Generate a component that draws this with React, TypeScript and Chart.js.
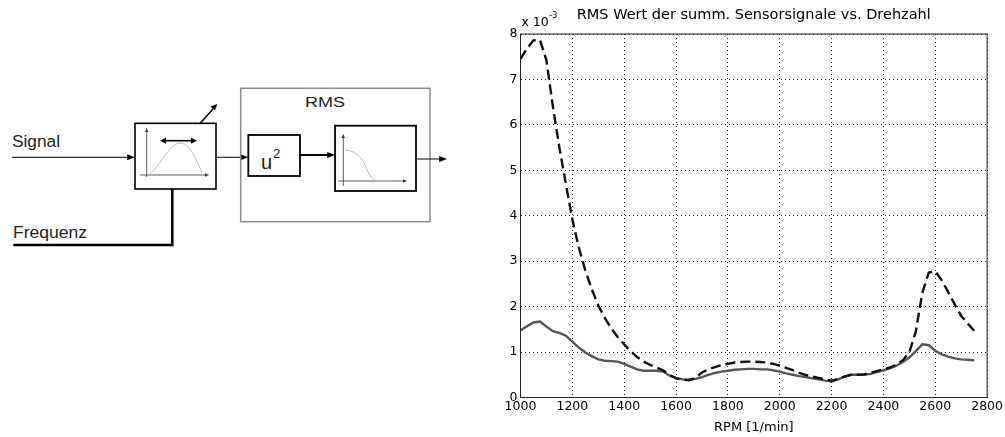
import React, { useEffect, useRef } from 'react';
import { Chart, registerables } from 'chart.js';

Chart.register(...registerables);

// ---------- data (values in units of 10^-3) ----------
const rpm = [
  1000, 1025, 1050, 1075, 1100, 1125, 1150, 1175, 1200, 1225,
  1250, 1275, 1300, 1325, 1350, 1375, 1400, 1425, 1450, 1475,
  1500, 1525, 1550, 1575, 1600, 1625, 1650, 1675, 1700, 1725,
  1750, 1775, 1800, 1825, 1850, 1875, 1900, 1925, 1950, 1975,
  2000, 2025, 2050, 2075, 2100, 2125, 2150, 2175, 2200, 2225,
  2250, 2275, 2300, 2325, 2350, 2375, 2400, 2425, 2450, 2475,
  2500, 2525, 2550, 2575, 2600, 2625, 2650, 2675, 2700, 2725,
  2750,
];

const rmsDashed = [
  7.45, 7.68, 7.86, 7.87, 7.42, 6.4, 5.5, 4.7, 3.92, 3.3,
  2.8, 2.38, 2.03, 1.75, 1.52, 1.33, 1.17, 1.02, 0.89, 0.79,
  0.72, 0.66, 0.6, 0.5, 0.42, 0.39, 0.38, 0.43, 0.55, 0.62,
  0.67, 0.71, 0.74, 0.77, 0.78, 0.79, 0.79, 0.78, 0.77, 0.74,
  0.7, 0.65, 0.6, 0.54, 0.5, 0.46, 0.43, 0.4, 0.37, 0.41,
  0.46, 0.5, 0.5, 0.51, 0.54, 0.58, 0.62, 0.66, 0.72, 0.82,
  1.0, 1.45, 2.3, 2.75, 2.78, 2.58, 2.32, 2.05, 1.8, 1.63,
  1.47,
];

const rmsSolid = [
  1.48, 1.57, 1.65, 1.67, 1.56, 1.46, 1.42, 1.36, 1.23, 1.1,
  0.99, 0.91, 0.84, 0.81, 0.8, 0.79, 0.74, 0.68, 0.62, 0.59,
  0.59, 0.59, 0.57, 0.48, 0.43, 0.4, 0.39, 0.41, 0.45, 0.5,
  0.54, 0.57, 0.59, 0.61, 0.62, 0.63, 0.63, 0.62, 0.62, 0.6,
  0.57, 0.53, 0.5, 0.47, 0.45, 0.42, 0.4, 0.37, 0.35, 0.4,
  0.46, 0.5, 0.5, 0.5, 0.52, 0.56, 0.6, 0.64, 0.7, 0.78,
  0.88, 1.02, 1.17, 1.15, 1.03, 0.95, 0.9, 0.86, 0.84, 0.83,
  0.82,
];

const xMin = 1000;
const xMax = 2800;
const xStep = 200;
const yMin = 0;
const yMax = 8;
const yStep = 1;

const chartTitle = 'RMS Wert der summ. Sensorsignale vs. Drehzahl';
const xAxisTitle = 'RPM [1/min]';
const yExponentBase = 'x 10';
const yExponent = '-3';

const FONT = '"Liberation Sans", Arial, Helvetica, sans-serif';
const CFONT = '"DejaVu Sans", "Liberation Sans", Arial, sans-serif';

// ---------- block diagram ----------
function ArrowR({ x, y, s = 6 }: { x: number; y: number; s?: number }) {
  return <polygon points={`${x},${y} ${x - s * 1.3},${y - s / 2} ${x - s * 1.3},${y + s / 2}`} fill="#000" />;
}

function Diagram() {
  return (
    <svg width={460} height={437} style={{ position: 'absolute', left: 0, top: 0 }}>
      {/* Signal input */}
      <text x={12} y={147} fontFamily={FONT} fontSize={16} fill="#222" textLength={48} lengthAdjust="spacingAndGlyphs">Signal</text>
      <line x1={12} y1={157.3} x2={130} y2={157.3} stroke="#000" strokeWidth={1} />
      <ArrowR x={135} y={157.3} />

      {/* band-pass filter box */}
      <rect x={135} y={123.3} width={81} height={65.7} fill="#fff" stroke="#000" strokeWidth={1.6} />
      <line x1={146.7} y1={177} x2={146.7} y2={131} stroke="#333" strokeWidth={0.8} />
      <polygon points="146.7,128 145,132 148.4,132" fill="#333" />
      <line x1={140} y1={175} x2={206} y2={175} stroke="#333" strokeWidth={0.8} />
      <polygon points="209,175 205,173.3 205,176.7" fill="#333" />
      <path d="M149,175 C160,166 170,143 180,143 C190,143 196,160 202,172" fill="none" stroke="#bbb" strokeWidth={1} />
      <line x1={164} y1={140.7} x2={193} y2={140.7} stroke="#000" strokeWidth={1.6} />
      <polygon points="160,140.7 166,137.7 166,143.7" fill="#000" />
      <polygon points="197,140.7 191,137.7 191,143.7" fill="#000" />
      <line x1={199.3} y1={124.3} x2={214.5} y2={107.2} stroke="#000" strokeWidth={1.5} />
      <polygon points="217.3,104 210.5,106.5 215,110.5" fill="#000" />

      {/* Frequenz input */}
      <text x={13} y={238} fontFamily={FONT} fontSize={16} fill="#222" textLength={74} lengthAdjust="spacingAndGlyphs">Frequenz</text>
      <polyline points="13.3,245 172.3,245 172.3,189" fill="none" stroke="#000" strokeWidth={2.5} />

      {/* connection to RMS block */}
      <line x1={216} y1={157.3} x2={243} y2={157.3} stroke="#000" strokeWidth={1} />
      <ArrowR x={248.3} y={157.3} />

      {/* RMS outer box */}
      <rect x={240.7} y={88.3} width={189.3} height={133.4} fill="none" stroke="#8c8c8c" strokeWidth={1.5} />
      <text x={305} y={107} fontFamily={FONT} fontSize={15} fill="#222" textLength={40} lengthAdjust="spacingAndGlyphs">RMS</text>

      {/* u^2 box */}
      <rect x={248.3} y={135} width={51.7} height={41} fill="#fff" stroke="#000" strokeWidth={1.8} />
      <text x={261} y={169} fontFamily={FONT} fontSize={20} fill="#222">u</text>
      <text x={273} y={158} fontFamily={FONT} fontSize={13} fill="#222">2</text>

      <line x1={300} y1={155} x2={329} y2={155} stroke="#000" strokeWidth={2} />
      <ArrowR x={335} y={155} />

      {/* low-pass box */}
      <rect x={335} y={125.7} width={81} height={65.3} fill="#fff" stroke="#000" strokeWidth={1.8} />
      <line x1={343.3} y1={186} x2={343.3} y2={137} stroke="#333" strokeWidth={0.8} />
      <polygon points="343.3,134 341.6,138 345,138" fill="#333" />
      <line x1={338.3} y1={181} x2={404} y2={181} stroke="#333" strokeWidth={0.8} />
      <polygon points="407,181 403,179.3 403,182.7" fill="#333" />
      <path d="M345,150 C355,151 360,155 365,165 C369,174 371,180 378,181 L392,181" fill="none" stroke="#bbb" strokeWidth={1} />

      {/* output */}
      <line x1={416} y1={159} x2={441} y2={159} stroke="#000" strokeWidth={1} />
      <ArrowR x={447} y={159} />
    </svg>
  );
}

// ---------- chart ----------
const framePlugin = {
  id: 'matlabFrame',
  afterDraw(chart: any) {
    const { ctx, chartArea: a } = chart;
    ctx.save();
    ctx.strokeStyle = '#222';
    ctx.lineWidth = 1;
    ctx.setLineDash([]);
    ctx.strokeRect(a.left, a.top, a.right - a.left, a.bottom - a.top);

    ctx.fillStyle = '#000';
    ctx.font = `14.5px ${CFONT}`;
    ctx.textAlign = 'center';
    ctx.textBaseline = 'middle';
    ctx.fillText(chartTitle, (a.left + a.right) / 2, 15);

    ctx.textAlign = 'left';
    ctx.textBaseline = 'alphabetic';
    ctx.font = `12.5px ${CFONT}`;
    const bx = a.left + 1;
    ctx.fillText(yExponentBase, bx, 26);
    const w = ctx.measureText(yExponentBase).width;
    ctx.font = `8px ${CFONT}`;
    ctx.fillText(yExponent, bx + w + 0.5, 18);
    ctx.restore();
  },
};

function RmsChart() {
  const ref = useRef<HTMLCanvasElement | null>(null);

  useEffect(() => {
    if (!ref.current) return;
    const dashedPts = rpm.map((x, i) => ({ x, y: rmsDashed[i] }));
    const solidPts = rpm.map((x, i) => ({ x, y: rmsSolid[i] }));
    const tickFont = { family: CFONT, size: 12.5 };
    const chart = new Chart(ref.current, {
      type: 'line',
      data: {
        datasets: [
          {
            label: 'RMS (gestrichelt)',
            data: dashedPts,
            borderColor: '#111',
            borderWidth: 2.4,
            borderDash: [10, 5],
            pointRadius: 0,
            tension: 0,
            fill: false,
          },
          {
            label: 'RMS (durchgezogen)',
            data: solidPts,
            borderColor: '#555',
            borderWidth: 2.4,
            pointRadius: 0,
            tension: 0,
            fill: false,
          },
        ],
      },
      options: {
        animation: false,
        responsive: false,
        devicePixelRatio: 1,
        layout: { padding: { left: 0, right: 17, top: 34, bottom: 0 } },
        plugins: {
          legend: { display: false },
          tooltip: { enabled: false },
          title: { display: false },
        },
        scales: {
          x: {
            type: 'linear',
            min: xMin,
            max: xMax,
            afterFit: (s: any) => { s.height = 39.5; },
            ticks: {
              stepSize: xStep,
              autoSkip: false,
              maxRotation: 0,
              padding: 2,
              color: '#000',
              font: tickFont,
              callback: (v: any) => String(v),
            },
            grid: { color: 'rgba(0,0,0,0.85)', lineWidth: 1, drawTicks: false },
            border: { display: true, color: '#222', dash: [1, 3] },
            title: {
              display: true,
              text: xAxisTitle,
              color: '#000',
              font: { family: CFONT, size: 13 },
              padding: { top: 0, bottom: 2 },
            },
          },
          y: {
            type: 'linear',
            min: yMin,
            max: yMax,
            afterFit: (s: any) => { s.width = 60.5; },
            ticks: {
              stepSize: yStep,
              padding: 3,
              color: '#000',
              font: tickFont,
              callback: (v: any) => String(v),
            },
            grid: { color: 'rgba(0,0,0,0.85)', lineWidth: 1, drawTicks: false },
            border: { display: true, color: '#222', dash: [1, 3] },
          },
        },
      },
      plugins: [framePlugin],
    } as any);
    return () => chart.destroy();
  }, []);

  return (
    <canvas
      ref={ref}
      width={545}
      height={437}
      style={{ position: 'absolute', left: 460, top: 0, width: 545, height: 437 }}
    />
  );
}

export default function App() {
  return (
    <div style={{ position: 'absolute', left: 0, top: 0, width: 1005, height: 437, background: '#fff', overflow: 'hidden' }}>
      <Diagram />
      <RmsChart />
    </div>
  );
}
